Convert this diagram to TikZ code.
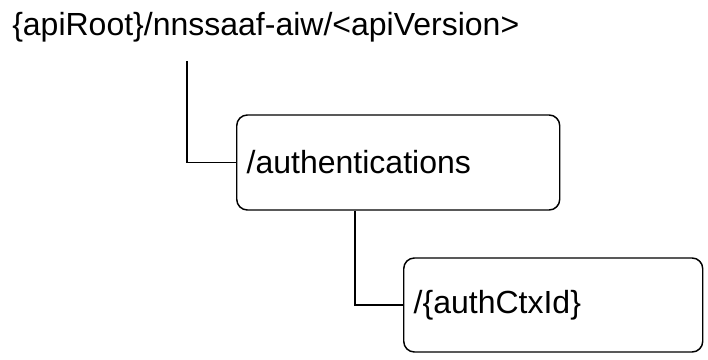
\documentclass[tikz,border=0pt]{standalone}
\usepackage{fontspec}
\setmainfont{Liberation Sans}
\begin{document}
\begin{tikzpicture}[x=0.75pt,y=-0.75pt,
  res/.style={draw, line width=1.1pt, rounded corners=8pt, inner xsep=7.5pt, inner ysep=0pt, align=left, font=\fontsize{24pt}{28pt}\selectfont, anchor=west},
  conn/.style={line width=1pt}]
\useasboundingbox (0,0) rectangle (708,360);
\node[anchor=base west, inner sep=0pt, font=\fontsize{24pt}{28pt}\selectfont] (root) at (12,36) {\{apiRoot\}/nnssaaf-aiw/<apiVersion>};
\node[res, text width=227.25pt, minimum height=71.25pt] (auth) at (236,162.5) {/authentications};
\node[res, text width=209.25pt, minimum height=70.5pt] (ctx) at (403,305) {/\{authCtxId\}};
\draw[conn] (root.base west) ++(175,25) |- (auth.west);
\draw[conn] (auth.south west) ++(119,0) |- (ctx.west);
\end{tikzpicture}
\end{document}
